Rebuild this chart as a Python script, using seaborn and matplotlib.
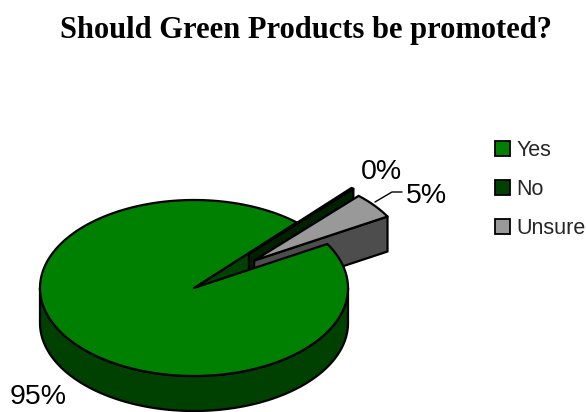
import numpy as np
import matplotlib
matplotlib.use("Agg")
import matplotlib.pyplot as plt
from matplotlib.patches import Patch
import seaborn as sns

TITLE = "Should Green Products be promoted?"
categories = ["Yes", "No", "Unsure"]
values = [94.95, 0.25, 4.8]
explode = [0.0, 0.53, 0.5]
top_colors = ["#008000", "#004000", "#999999"]
wall_colors = ["#004000", "#002000", "#4D4D4D"]

sns.set_theme(style="white")
plt.rcParams["font.family"] = ["Liberation Sans", "DejaVu Sans"]

W, H = 586, 412
fig = plt.figure(figsize=(W / 100, H / 100), dpi=100, facecolor="white")
ax = fig.add_axes([0, 0, 1, 1])
ax.set_xlim(0, W)
ax.set_ylim(H, 0)
ax.axis("off")

CX, CY, RX, RY, DEPTH = 194, 288, 154, 88, 35
START = 30.0
EDGE = dict(edgecolor="black", linewidth=1.6, joinstyle="round")


def point(t, ox=0.0, oy=0.0, dz=0.0):
    r = np.radians(t)
    return CX + ox + RX * np.cos(r), CY + oy - RY * np.sin(r) + dz


def arc(t0, t1, ox=0.0, oy=0.0, dz=0.0):
    ts = np.linspace(t0, t1, max(int(abs(t1 - t0)) * 2, 4))
    return [point(t, ox, oy, dz) for t in ts]


# slice spans, clockwise from START
shares = np.array(values) / sum(values) * 360
ends = START - np.cumsum(shares)
starts = np.r_[START, ends[:-1]]
spans = list(zip(starts, ends))
offsets = []
for (a, b), e in zip(spans, explode):
    m = np.radians((a + b) / 2)
    offsets.append((e * RX * np.cos(m), -e * RY * np.sin(m)))

# Yes: outer wall (front half only) and the cut face seen through the gap
yes_a, yes_b = spans[0]
outer = arc(0, -180, dz=0) + arc(-180, 0, dz=DEPTH)
ax.fill(*zip(*outer), facecolor=wall_colors[0], zorder=1, **EDGE)
cut = [(CX, CY), point(yes_b), point(yes_b, dz=DEPTH), (CX, CY + DEPTH)]
ax.fill(*zip(*cut), facecolor=wall_colors[0], zorder=2, **EDGE)

# Exploded slices
for i in (1, 2):
    a, b = spans[i]
    ox, oy = offsets[i]
    apex = (CX + ox, CY + oy)
    low = apex[0], apex[1] + DEPTH
    z = 3 + i
    wall = [apex, point(b, ox, oy), point(b, ox, oy, DEPTH), low]
    ax.fill(*zip(*wall), facecolor=wall_colors[i], zorder=z, **EDGE)
    top = [apex] + arc(a, b, ox, oy)
    ax.fill(*zip(*top), facecolor=top_colors[i], zorder=z, **EDGE)

# Yes: top surface
top = [(CX, CY)] + arc(yes_a, yes_b)
ax.fill(*zip(*top), facecolor=top_colors[0], zorder=8, **EDGE)

# Text
ax.text(306, 30, TITLE, family=["Liberation Serif", "DejaVu Serif"], weight="bold",
        fontsize=22, ha="center", va="center", color="black")
label_pos = [(38, 397), (381, 172), (426, 196)]
for v, (x, y) in zip(values, label_pos):
    ax.text(x, y, f"{round(v)}%", fontsize=20.5, ha="center", va="center", color="black", zorder=10)
ax.plot([375, 392, 402], [202, 192, 192], color="black", lw=1, zorder=9)

handles = [Patch(facecolor=c, edgecolor="black", linewidth=1.3) for c in top_colors]
fig.legend(handles, categories, loc="upper left", bbox_to_anchor=(495 / W, 1 - 140 / H),
           frameon=False, fontsize=15.5, handlelength=0.7, handleheight=0.7,
           handletextpad=0.3, labelspacing=0.83, borderpad=0, borderaxespad=0)

fig.savefig("out.png", dpi=100)
